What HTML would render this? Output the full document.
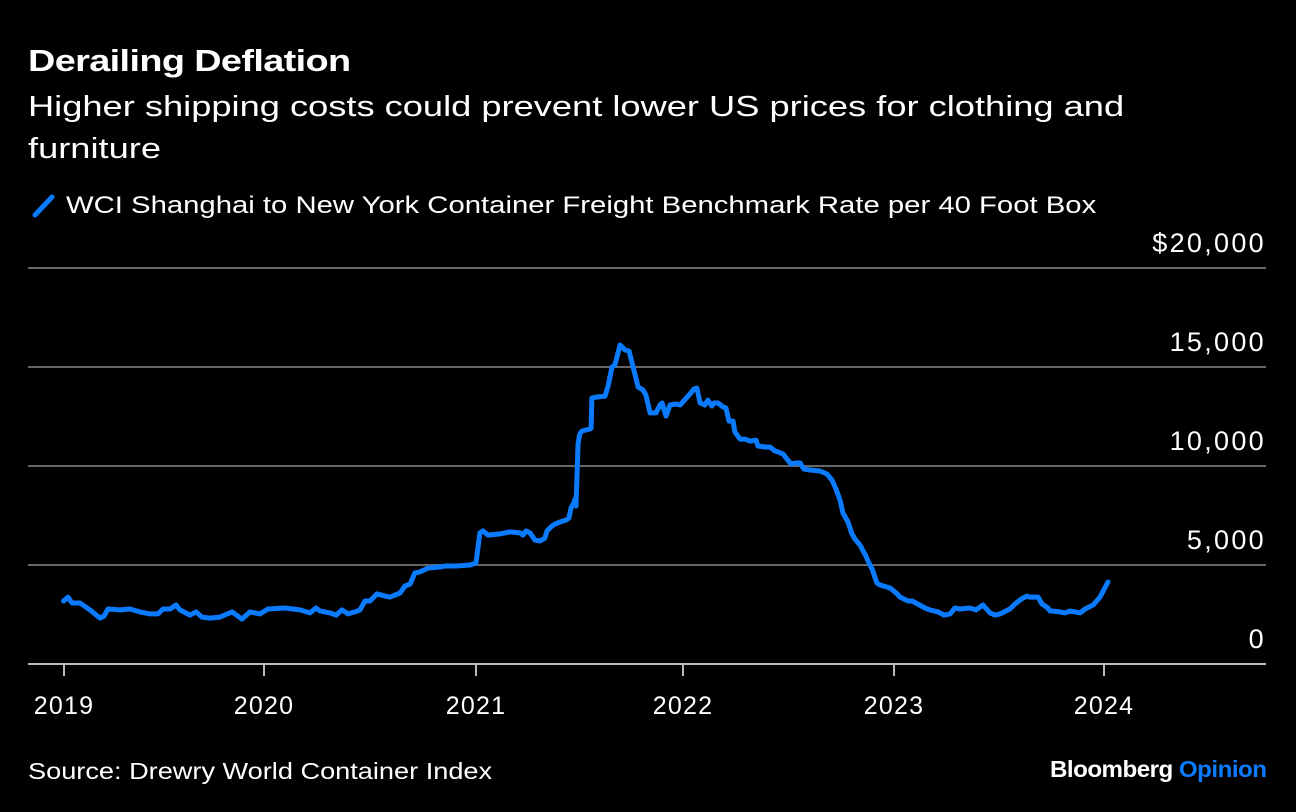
<!DOCTYPE html>
<html><head><meta charset="utf-8">
<style>
html,body{margin:0;padding:0;background:#000;}
body{width:1296px;height:812px;overflow:hidden;font-family:"Liberation Sans",Arial,sans-serif;color:#fff;position:relative;}
.t{position:absolute;white-space:nowrap;transform-origin:0 0;}
</style></head>
<body>
<div class="t" style="left:28px;top:43px;font-size:31px;font-weight:bold;letter-spacing:-0.5px;transform:scaleX(1.22);">Derailing Deflation</div>
<div class="t" style="left:28px;top:86px;font-size:29px;line-height:42px;transform:scaleX(1.25);">Higher shipping costs could prevent lower US prices for clothing and<br>furniture</div>
<svg width="26" height="26" style="position:absolute;left:32px;top:193px"><line x1="3" y1="22" x2="20" y2="4" stroke="#0a7aff" stroke-width="5" stroke-linecap="round"/></svg>
<div class="t" style="left:66px;top:192px;font-size:24px;transform:scaleX(1.22);">WCI Shanghai to New York Container Freight Benchmark Rate per 40 Foot Box</div>
<svg id="chart" width="1296" height="812" style="position:absolute;left:0;top:0"></svg>
<div class="t" style="left:28px;top:758px;font-size:23px;transform:scaleX(1.18);">Source: Drewry World Container Index</div>
<div class="t" style="left:1050px;top:756px;font-size:23px;font-weight:bold;letter-spacing:-0.5px;transform:scaleX(1.05);">Bloomberg <span style="color:#0a7aff">Opinion</span></div>
<script>
const years=[2018.998,2019.02,2019.04,2019.08,2019.13,2019.18,2019.2,2019.22,2019.28,2019.33,2019.38,2019.43,2019.47,2019.495,2019.53,2019.56,2019.58,2019.63,2019.66,2019.69,2019.73,2019.78,2019.84,2019.89,2019.93,2019.98,
2020.019,2020.099,2020.17,2020.217,2020.245,2020.264,2020.311,2020.34,2020.368,2020.396,2020.429,2020.453,2020.476,2020.5,2020.533,2020.571,2020.594,2020.618,2020.642,2020.665,2020.689,2020.712,2020.736,2020.774,2020.83,2020.854,2020.906,2020.972,
2021.0,2021.019,2021.034,2021.058,2021.116,2021.164,2021.213,2021.227,2021.242,2021.261,2021.285,2021.309,2021.333,2021.343,2021.367,2021.382,2021.406,2021.435,2021.449,2021.459,2021.473,2021.478,2021.483,2021.493,2021.502,2021.512,2021.551,2021.556,2021.56,2021.58,2021.623,2021.638,2021.657,2021.671,2021.696,2021.72,2021.739,2021.763,2021.783,2021.807,2021.821,2021.841,2021.87,2021.889,2021.899,2021.918,2021.937,2021.966,2021.986,
2022.033,2022.052,2022.066,2022.081,2022.104,2022.118,2022.137,2022.147,2022.166,2022.19,2022.204,2022.218,2022.237,2022.246,2022.27,2022.294,2022.318,2022.346,2022.355,2022.389,2022.412,2022.436,2022.45,2022.474,2022.493,2022.512,2022.536,2022.555,2022.573,2022.602,2022.649,2022.682,2022.706,2022.725,2022.744,2022.758,2022.782,2022.801,2022.815,2022.839,2022.867,2022.886,2022.896,2022.919,2022.934,2022.981,
2023.01,2023.029,2023.067,2023.086,2023.148,2023.171,2023.21,2023.238,2023.267,2023.29,2023.314,2023.362,2023.39,2023.424,2023.457,2023.481,2023.505,2023.552,2023.576,2023.6,2023.614,2023.633,2023.648,2023.671,2023.686,2023.705,2023.733,2023.743,2023.79,2023.814,2023.838,2023.862,2023.886,2023.91,2023.948,2023.981,2024.019];
const rates=[3180,3380,3080,3080,2730,2320,2420,2780,2730,2780,2630,2530,2530,2780,2780,2980,2730,2470,2630,2370,2320,2370,2630,2270,2630,2530,
2780,2830,2730,2580,2830,2680,2580,2470,2730,2530,2630,2730,3180,3180,3540,3430,3380,3480,3590,3940,4040,4600,4650,4850,4900,4950,4950,5000,
5100,6620,6720,6510,6570,6670,6620,6510,6720,6620,6260,6210,6360,6720,6970,7070,7170,7270,7370,7880,8130,8330,7980,11160,11620,11770,11870,11920,13430,13480,13530,14040,15000,15100,16110,15860,15810,14850,13990,13840,13580,12680,12680,13080,13180,12520,13080,13130,13080,
13640,13890,13940,13180,13080,13330,13030,13180,13180,12980,12930,12270,12270,11720,11360,11360,11260,11310,11010,10960,10960,10760,10710,10610,10350,10100,10150,10150,9850,9800,9750,9600,9290,8840,8280,7630,7170,6570,6310,6010,5450,5000,4800,4090,3990,3840,
3590,3380,3180,3180,2830,2730,2630,2470,2530,2830,2780,2830,2730,2980,2580,2470,2530,2780,3030,3230,3330,3430,3380,3380,3380,3030,2830,2680,2630,2580,2680,2630,2580,2780,2980,3380,4140];
const xTickYears=[2019,2020,2021,2022,2023,2024];
const xTickPx=[64,264,476,683,894,1104];
const yTicks=[0,5000,10000,15000,20000];
const yTickLabels=["0","5,000","10,000","15,000","$20,000"];
const NS="http://www.w3.org/2000/svg";
const svg=document.getElementById('chart');
function x(yr){
  for(let i=0;i<xTickYears.length-1;i++){
    if(yr<=xTickYears[i+1]||i===xTickYears.length-2){
      return xTickPx[i]+(yr-xTickYears[i])*(xTickPx[i+1]-xTickPx[i]);
    }
  }
}
function y(v){return 664-v/20000*396;}
function mk(tag,attrs){const e=document.createElementNS(NS,tag);for(const k in attrs)e.setAttribute(k,attrs[k]);svg.appendChild(e);return e;}
yTicks.forEach((v,i)=>{
  const g=mk('line',{x1:28,x2:1266,y1:y(v),y2:y(v),stroke:v===0?'#bbbbbb':'#666666','stroke-width':2});
  
  
  const t=mk('text',{x:1266,y:y(v)-16,'text-anchor':'end',fill:'#fff','font-size':27,'letter-spacing':2.3,'font-family':'Liberation Sans, Arial, sans-serif'});
  t.textContent=yTickLabels[i];
  
  
});
xTickYears.forEach(yr=>{
  const tk=mk('line',{x1:x(yr),x2:x(yr),y1:664,y2:676,stroke:'#bbbbbb','stroke-width':2});
  
  
  const t=mk('text',{x:x(yr),y:714,'text-anchor':'middle',fill:'#fff','font-size':25,'letter-spacing':1.2,'font-family':'Liberation Sans, Arial, sans-serif'});
  t.textContent=String(yr);
  
  
});
let d='';
years.forEach((yr,i)=>{d+=(i?'L':'M')+x(yr).toFixed(1)+','+y(rates[i]).toFixed(1);});
const p=mk('path',{d:d,fill:'none',stroke:'#0a7aff','stroke-width':5,'stroke-linejoin':'round','stroke-linecap':'round'});


</script>
</body></html>
